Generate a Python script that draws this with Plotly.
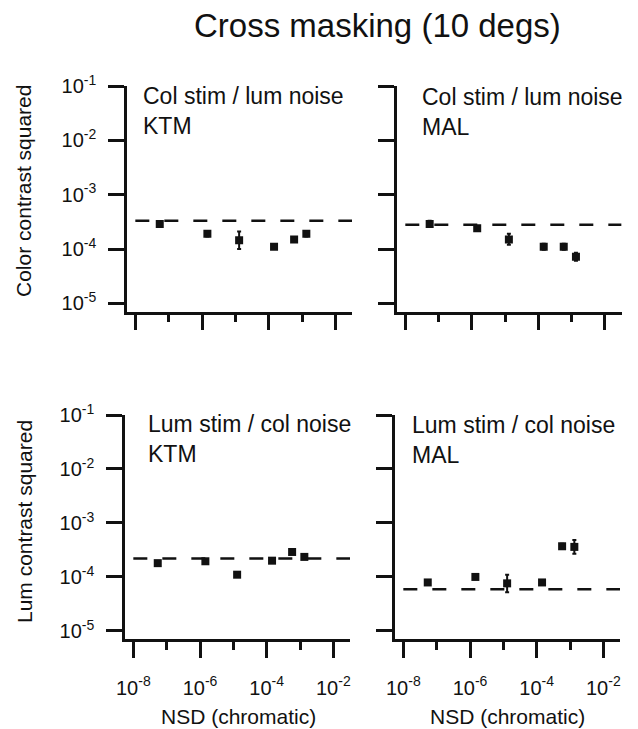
import plotly.graph_objects as go

# ---------------- data ----------------
nsd = [5.4e-8, 1.45e-6, 1.3e-5, 1.45e-4, 5.8e-4, 1.35e-3]
ref_x = [1e-8, 3.2e-2]

tl_y = [2.9e-4, 1.9e-4, 1.45e-4, 1.1e-4, 1.5e-4, 1.9e-4]
tl_hi = [3.2e-4, 2.1e-4, 2.1e-4, 1.2e-4, 1.65e-4, 2.1e-4]
tl_lo = [2.6e-4, 1.7e-4, 1.0e-4, 1.0e-4, 1.35e-4, 1.7e-4]
tl_ref = 3.3e-4

tr_y = [2.9e-4, 2.4e-4, 1.5e-4, 1.1e-4, 1.1e-4, 7.2e-5]
tr_hi = [3.3e-4, 2.65e-4, 1.9e-4, 1.25e-4, 1.25e-4, 8.5e-5]
tr_lo = [2.6e-4, 2.15e-4, 1.2e-4, 0.97e-4, 0.97e-4, 6.1e-5]
tr_ref = 2.8e-4

bl_y = [1.8e-4, 1.95e-4, 1.1e-4, 2.0e-4, 2.9e-4, 2.35e-4]
bl_hi = [1.95e-4, 2.1e-4, 1.2e-4, 2.15e-4, 3.2e-4, 2.55e-4]
bl_lo = [1.65e-4, 1.8e-4, 1.0e-4, 1.85e-4, 2.65e-4, 2.15e-4]
bl_ref = 2.2e-4

br_y = [7.9e-5, 1.0e-4, 7.6e-5, 7.9e-5, 3.7e-4, 3.6e-4]
br_hi = [8.6e-5, 1.1e-4, 1.1e-4, 8.6e-5, 4.1e-4, 4.85e-4]
br_lo = [7.2e-5, 0.92e-4, 5.2e-5, 7.2e-5, 3.3e-4, 2.7e-4]
br_ref = 5.9e-5

y_tickvals = [1e-5, 1e-4, 1e-3, 1e-2, 1e-1]
y_ticktext = ["10<sup>-5</sup>", "10<sup>-4</sup>", "10<sup>-3</sup>", "10<sup>-2</sup>", "10<sup>-1</sup>"]
x_tickvals = [1e-8, 1e-6, 1e-4, 1e-2]
x_ticktext = ["10<sup>-8</sup>", "10<sup>-6</sup>", "10<sup>-4</sup>", "10<sup>-2</sup>"]
x_minor = [1e-7, 1e-5, 1e-3]

panel_labels = ["Col stim / lum noise<br>KTM", "Col stim / lum noise<br>MAL",
                "Lum stim / col noise<br>KTM", "Lum stim / col noise<br>MAL"]
title = "Cross masking (10 degs)"
ytitles = ["Color contrast squared", "Lum contrast squared"]
xtitle = "NSD (chromatic)"

# ---------------- layout geometry (pixels) ----------------
W, H = 638, 729
FONT = "Liberation Sans, Arial, Helvetica, sans-serif"
INK = "#111111"

panels = [
    dict(y=tl_y, hi=tl_hi, lo=tl_lo, ref=tl_ref, px=(127, 352), py=(86, 311.5), lab=(141, 81)),
    dict(y=tr_y, hi=tr_hi, lo=tr_lo, ref=tr_ref, px=(397, 621.5), py=(86, 311.5), lab=(420, 82)),
    dict(y=bl_y, hi=bl_hi, lo=bl_lo, ref=bl_ref, px=(125, 350), py=(415, 639), lab=(146, 409)),
    dict(y=br_y, hi=br_hi, lo=br_lo, ref=br_ref, px=(395, 620), py=(415, 639), lab=(410, 410)),
]

fig = go.Figure()
annotations = []
for i, p in enumerate(panels):
    n = "" if i == 0 else str(i + 1)
    xa, ya = "x" + n, "y" + n
    # reference dashed line
    fig.add_trace(go.Scatter(
        x=ref_x, y=[p["ref"], p["ref"]], mode="lines", xaxis=xa, yaxis=ya,
        line=dict(color=INK, width=2.5, dash="14px,15px"), showlegend=False, hoverinfo="skip"))
    err_plus = [h - v for h, v in zip(p["hi"], p["y"])]
    err_minus = [v - l for l, v in zip(p["lo"], p["y"])]
    fig.add_trace(go.Scatter(
        x=nsd, y=p["y"], mode="markers", xaxis=xa, yaxis=ya,
        marker=dict(symbol="square", size=8, color=INK),
        error_y=dict(type="data", array=err_plus, arrayminus=err_minus,
                     color=INK, thickness=2, width=2),
        showlegend=False))
    x0, x1 = p["px"]
    y0, y1 = p["py"]
    fig.layout["xaxis" + n] = dict(
        type="log", range=[-8.25, -1.5], domain=[x0 / W, x1 / W], anchor=ya,
        automargin=False,
        showgrid=False, zeroline=False, showline=True, linecolor=INK, linewidth=2.5,
        ticks="outside", ticklen=16, tickwidth=2.5, tickcolor=INK,
        tickmode="array", tickvals=x_tickvals,
        ticktext=x_ticktext if i >= 2 else [""] * 4,
        showticklabels=i >= 2, ticklabelstandoff=13,
        tickfont=dict(family=FONT, size=20, color=INK),
        minor=dict(tickmode="array", tickvals=x_minor, ticks="outside",
                   ticklen=8, tickwidth=2.5, tickcolor=INK, showgrid=False),
    )
    fig.layout["yaxis" + n] = dict(
        type="log", range=[-5.15, -1], domain=[1 - y1 / H, 1 - y0 / H], anchor=xa,
        automargin=False,
        showgrid=False, zeroline=False, showline=True, linecolor=INK, linewidth=2.5,
        ticks="outside", ticklen=16, tickwidth=2.5, tickcolor=INK,
        tickmode="array", tickvals=y_tickvals, ticktext=y_ticktext,
        showticklabels=(i % 2 == 0), ticklabelstandoff=8,
        tickfont=dict(family=FONT, size=20, color=INK),
    )
    lx, ly = p["lab"]
    annotations.append(dict(
        text=panel_labels[i], x=lx / W, y=1 - ly / H, xref="paper", yref="paper",
        xanchor="left", yanchor="top", showarrow=False, align="left",
        font=dict(family=FONT, size=23, color=INK)))

annotations.append(dict(text=title, x=377 / W, y=1 - 25 / H, xref="paper", yref="paper",
                        xanchor="center", yanchor="middle", showarrow=False,
                        font=dict(family=FONT, size=33, color=INK)))
annotations.append(dict(text=ytitles[0], x=24 / W, y=1 - 191 / H, xref="paper", yref="paper",
                        xanchor="center", yanchor="middle", textangle=-90, showarrow=False,
                        font=dict(family=FONT, size=21, color=INK)))
annotations.append(dict(text=ytitles[1], x=24 / W, y=1 - 522 / H, xref="paper", yref="paper",
                        xanchor="center", yanchor="middle", textangle=-90, showarrow=False,
                        font=dict(family=FONT, size=21, color=INK)))
annotations.append(dict(text=xtitle, x=238 / W, y=1 - 716 / H, xref="paper", yref="paper",
                        xanchor="center", yanchor="middle", showarrow=False,
                        font=dict(family=FONT, size=21, color=INK)))
annotations.append(dict(text=xtitle, x=507 / W, y=1 - 716 / H, xref="paper", yref="paper",
                        xanchor="center", yanchor="middle", showarrow=False,
                        font=dict(family=FONT, size=21, color=INK)))

fig.update_layout(
    width=W, height=H, margin=dict(l=0, r=0, t=0, b=0),
    paper_bgcolor="white", plot_bgcolor="white",
    annotations=annotations, showlegend=False,
)
fig.write_html("out.html", config={"displayModeBar": False},
               post_script="document.body.style.margin='0';document.body.style.overflow='hidden';")
